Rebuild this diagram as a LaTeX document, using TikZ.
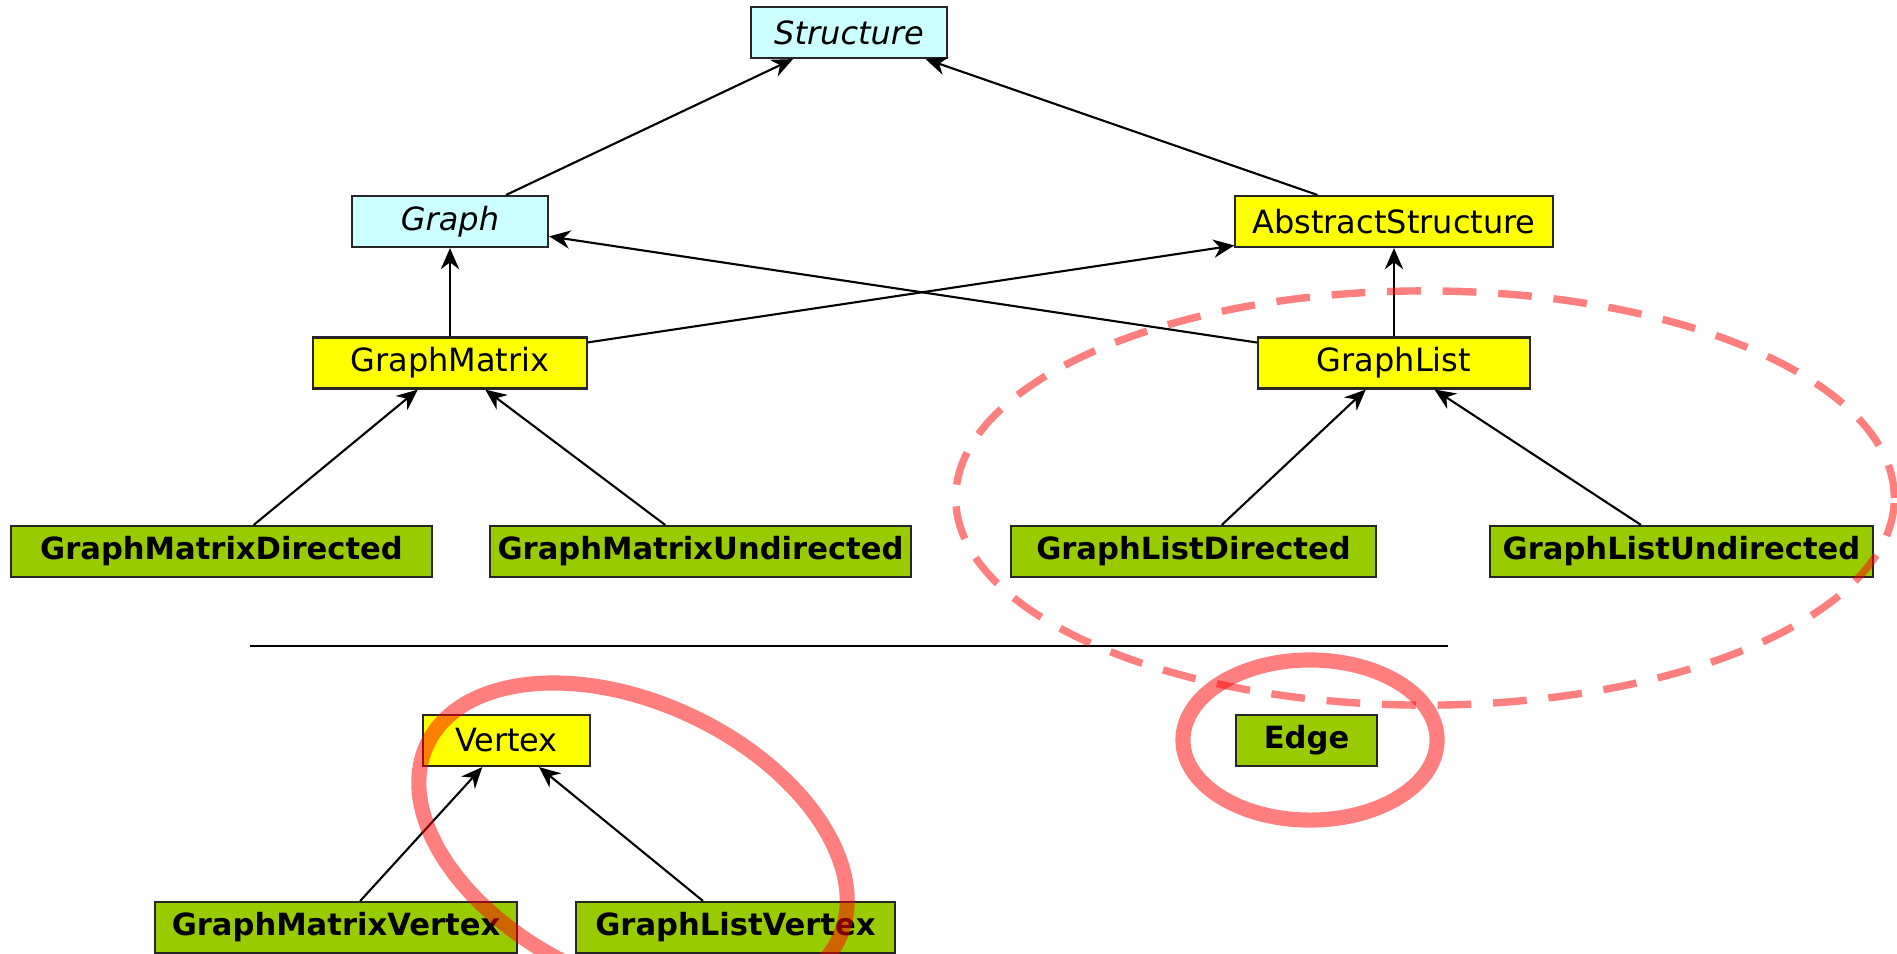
\documentclass[tikz,border=0pt]{standalone}
\usepackage{fontspec}
\setmainfont{DejaVu Sans}
\usepackage{tikz}
\usetikzlibrary{arrows.meta}
\definecolor{paleblue}{RGB}{204,255,255}
\definecolor{classyellow}{RGB}{255,255,0}
\definecolor{leafgreen}{RGB}{153,204,0}

\begin{document}
\begin{tikzpicture}
[%%%%%%%%%%%%%%%%%%%%%%%%%%%%%%
x=0.01cm, y=-0.01cm,
box/.style={rectangle,draw=black!85,line width=0.6pt,minimum height=0.51cm,inner sep=0pt},
iface/.style={box,fill=paleblue,font=\fontsize{9.1}{11}\selectfont\itshape},
cls/.style={box,fill=classyellow,font=\fontsize{9.1}{11}\selectfont},
leaf/.style={box,fill=leafgreen,font=\fontsize{8.7}{11}\selectfont\bfseries},
inherit/.style={-{Stealth[length=6pt,width=5.2pt]},line width=0.6pt},
redring/.style={draw=red,draw opacity=0.5,line width=4.3pt},
reddash/.style={draw=red,draw opacity=0.5,line width=2.1pt,dash pattern=on 9.6pt off 6.2pt},
]%%%%%%%%%%%%%%%%%%%%%%%%%%%%%%
\useasboundingbox (0,0) rectangle (1897,953);

\node[iface,minimum width=1.96cm] (structure) at (849,32.5){Structure};
\node[iface,minimum width=1.96cm] (graph) at (450,221.5){Graph};
\node[cls,minimum width=3.17cm] (abstract) at (1394,221.5){AbstractStructure};
\node[cls,minimum width=2.73cm] (gmatrix) at (450,363){GraphMatrix};
\node[cls,minimum width=2.72cm] (glist) at (1394,363){GraphList};

\node[leaf,minimum width=4.21cm] (gmdir) at (221.5,551.5){GraphMatrixDirected};
\node[leaf,minimum width=4.21cm] (gmundir) at (700.5,551.5){GraphMatrixUndirected};
\node[leaf,minimum width=3.65cm] (gldir) at (1193.5,551.5){GraphListDirected};
\node[leaf,minimum width=3.83cm] (glundir) at (1681.5,551.5){GraphListUndirected};

\node[cls,minimum width=1.67cm] (vertex) at (506.5,740.5){Vertex};
\node[leaf,minimum width=1.41cm] (edge) at (1306.5,740.5){Edge};
\node[leaf,minimum width=3.62cm] (gmvertex) at (336,927.5){GraphMatrixVertex};
\node[leaf,minimum width=3.19cm] (glvertex) at (735.5,927.5){GraphListVertex};

\draw[inherit] (graph) -- (structure);
\draw[inherit] (abstract) -- (structure);
\draw[inherit] (gmatrix) -- (graph);
\draw[inherit] (gmatrix) -- (abstract);
\draw[inherit] (glist) -- (graph);
\draw[inherit] (glist) -- (abstract);
\draw[inherit] (gmdir) -- (gmatrix);
\draw[inherit] (gmundir) -- (gmatrix);
\draw[inherit] (gldir) -- (glist);
\draw[inherit] (glundir) -- (glist);
\draw[inherit] (gmvertex) -- (vertex);
\draw[inherit] (glvertex) -- (vertex);

% separator
\coordinate (sepL) at (250,646);
\coordinate (sepR) at (1448,646);
\draw[line width=0.6pt] (sepL) -- (sepR);

% highlights
\draw[reddash] (1425,498) ellipse [x radius=4.69cm, y radius=2.07cm];
\draw[redring] (1310,740) ellipse [x radius=1.27cm, y radius=0.8cm];
\draw[redring,rotate around={-25.3:(633,841.5)}] (633,841.5) ellipse [x radius=2.275cm, y radius=1.384cm];
\end{tikzpicture}
\end{document}
